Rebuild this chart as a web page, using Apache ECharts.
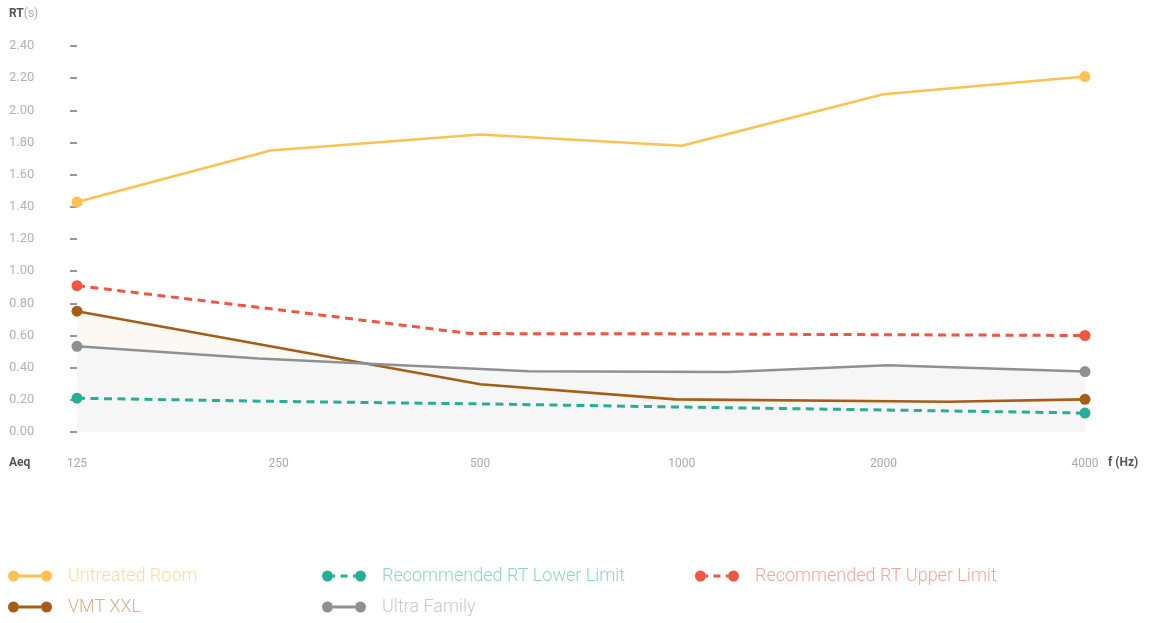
<!DOCTYPE html>
<html>
<head>
<meta charset="utf-8">
<script src="https://cdn.jsdelivr.net/npm/echarts@6/dist/echarts.min.js"></script>
<style>
  html, body { margin: 0; padding: 0; background: #fff; }
  #chart { width: 1155px; height: 623px; }
</style>
</head>
<body>
<div id="chart"></div>
<script>
// frequency tick labels (x value = octave index from 125 Hz)
const freqLabels = ["125", "250", "500", "1000", "2000", "4000"];
const rtTicks = [0, 0.2, 0.4, 0.6, 0.8, 1.0, 1.2, 1.4, 1.6, 1.8, 2.0, 2.2, 2.4];

// [octave position, RT in seconds]
const untreatedRoom = [[0, 1.43], [0.96, 1.75], [2, 1.85], [3, 1.78], [4, 2.1], [5, 2.21]];
const lowerLimit = [[0, 0.21], [1, 0.19], [2, 0.175], [3, 0.155], [4, 0.137], [5, 0.118]];
const upperLimit = [[0, 0.91], [1, 0.76], [1.95, 0.612], [3, 0.61], [4, 0.605], [5, 0.6]];
const vmtXXL = [[0, 0.751], [1, 0.524], [2, 0.297], [2.97, 0.203], [4.32, 0.188], [5, 0.203]];
const ultraFamily = [[0, 0.533], [0.9, 0.457], [2.24, 0.378], [3.23, 0.373], [4.02, 0.415], [5, 0.376]];

const colors = {
  untreated: "#FFC252",
  lower: "#26AE96",
  upper: "#F25540",
  vmt: "#A65E16",
  ultra: "#8E9194"
};

// legend icons: dot - line - dot, and dot - dash - dot
const solidIcon = "path://M0,6a5.5,5.5 0 1,0 11,0a5.5,5.5 0 1,0 -11,0Z" +
  "M33,6a5.5,5.5 0 1,0 11,0a5.5,5.5 0 1,0 -11,0Z M11,4.6h22v2.8h-22Z";
const dashIcon = "path://M0,6a5.5,5.5 0 1,0 11,0a5.5,5.5 0 1,0 -11,0Z" +
  "M33,6a5.5,5.5 0 1,0 11,0a5.5,5.5 0 1,0 -11,0Z M11,4.6h2v2.8h-2Z M18.5,4.6h7v2.8h-7Z M31,4.6h2v2.8h-2Z";

function endSymbols(data) {
  return function (val, params) {
    return params.dataIndex === 0 || params.dataIndex === data.length - 1 ? 11 : 0;
  };
}

function lineSeries(name, data, color, dashed) {
  return {
    name: name,
    type: "line",
    data: data,
    z: 3,
    symbol: "circle",
    symbolSize: endSymbols(data),
    showSymbol: true,
    itemStyle: { color: color },
    lineStyle: { color: color, width: dashed ? 3 : 2.6, type: dashed ? [8, 5.5] : "solid" },
    emphasis: { disabled: true }
  };
}

function fillSeries(data, fill) {
  return {
    type: "line",
    data: data,
    z: 1,
    symbol: "none",
    lineStyle: { width: 0 },
    areaStyle: { color: fill, opacity: 1 },
    silent: true
  };
}

const legendText = { fontFamily: "Roboto", fontWeight: 300, fontSize: 18, padding: [0, 0, 0, 11] };

function legendItem(name, textColor, icon) {
  return { name: name, icon: icon, textStyle: { color: textColor } };
}

function legendColumn(left, items) {
  return {
    orient: "vertical",
    left: left,
    top: 567,
    height: 60,
    itemWidth: 44,
    itemHeight: 12,
    itemGap: 13,
    padding: 0,
    selectedMode: false,
    textStyle: legendText,
    data: items
  };
}

const option = {
  animation: false,
  backgroundColor: "#fff",
  grid: { left: 77, right: 70, top: 46, bottom: 191 },
  xAxis: {
    type: "value",
    min: 0,
    max: freqLabels.length - 1,
    interval: 1,
    axisLine: { show: false },
    axisTick: { show: false },
    splitLine: { show: false },
    axisLabel: {
      margin: 26,
      color: "#aaaaaa",
      fontFamily: "Roboto",
      fontSize: 12,
      formatter: function (v) { return freqLabels[v]; }
    }
  },
  yAxis: {
    type: "value",
    min: rtTicks[0],
    max: rtTicks[rtTicks.length - 1],
    interval: 0.2,
    axisLine: { show: false },
    axisTick: { show: true, length: 7, lineStyle: { color: "#777", width: 1.5 } },
    splitLine: { show: false },
    axisLabel: {
      align: "left",
      margin: 68,
      color: "#b3b3b3",
      fontFamily: "Roboto",
      fontSize: 13,
      formatter: function (v) { return v.toFixed(2); }
    }
  },
  legend: [
    legendColumn(8, [legendItem("Untreated Room", "#FEDBA0", solidIcon), legendItem("VMT XXL", "#D4B08E", solidIcon)]),
    legendColumn(322, [legendItem("Recommended RT Lower Limit", "#8FD4C8", dashIcon), legendItem("Ultra Family", "#C8C9CA", solidIcon)]),
    legendColumn(695, [legendItem("Recommended RT Upper Limit", "#F7A59A", dashIcon)])
  ],
  graphic: [
    {
      type: "text", left: 9, top: 8,
      style: {
        text: "{b|RT}{s|(s)}",
        rich: {
          b: { fontFamily: "Roboto", fontWeight: "bold", fontSize: 12, fill: "#555" },
          s: { fontFamily: "Roboto", fontSize: 12, fill: "#aaa" }
        }
      }
    },
    {
      type: "text", left: 9, top: 457,
      style: { text: "Aeq", fontFamily: "Roboto", fontWeight: "bold", fontSize: 12, fill: "#555" }
    },
    {
      type: "text", left: 1108, top: 457,
      style: { text: "f (Hz)", fontFamily: "Roboto", fontWeight: "bold", fontSize: 12, fill: "#555" }
    }
  ],
  series: [
    fillSeries(vmtXXL, "#FCF8F4"),
    fillSeries(ultraFamily, "#F6F6F6"),
    lineSeries("Untreated Room", untreatedRoom, colors.untreated, false),
    lineSeries("Recommended RT Lower Limit", lowerLimit, colors.lower, true),
    lineSeries("Recommended RT Upper Limit", upperLimit, colors.upper, true),
    lineSeries("VMT XXL", vmtXXL, colors.vmt, false),
    lineSeries("Ultra Family", ultraFamily, colors.ultra, false)
  ]
};

const myChart = echarts.init(document.getElementById("chart"));
myChart.setOption(option);
</script>
</body>
</html>
